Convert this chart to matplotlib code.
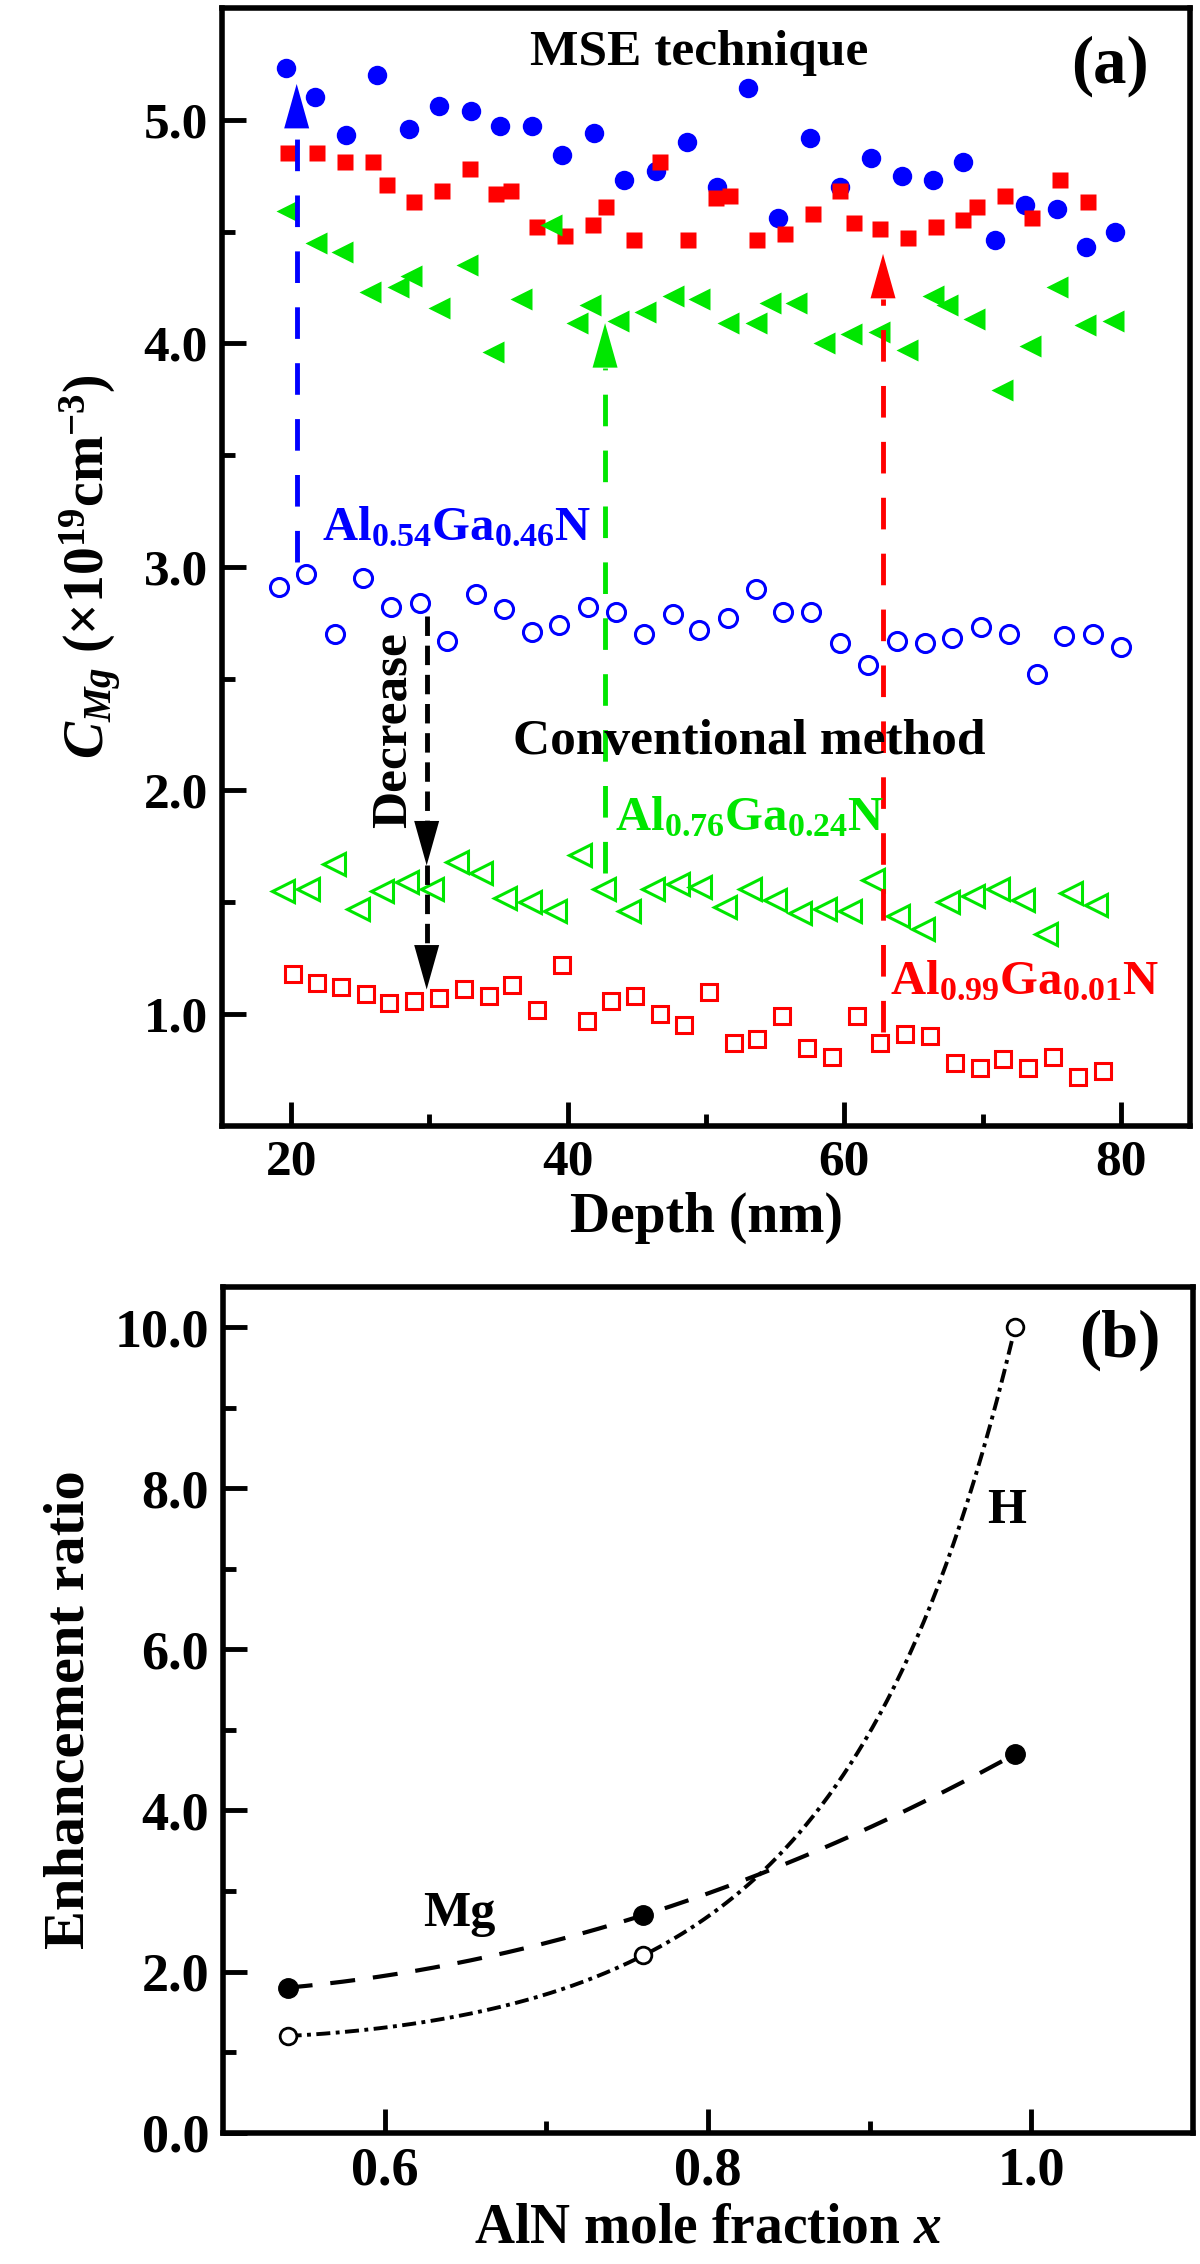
import numpy as np
import matplotlib
matplotlib.use('Agg')
import matplotlib.pyplot as plt

# fuentes tipo Times en negrita
plt.rcParams['font.family'] = ['Liberation Serif', 'DejaVu Serif']
plt.rcParams['font.weight'] = 'bold'
plt.rcParams['axes.labelweight'] = 'bold'
plt.rcParams['mathtext.fontset'] = 'custom'
plt.rcParams['mathtext.rm'] = 'Liberation Serif:bold'
plt.rcParams['mathtext.bf'] = 'Liberation Serif:bold'
plt.rcParams['mathtext.it'] = 'Liberation Serif:italic:bold'
plt.rcParams['mathtext.default'] = 'rm'

# ---------------- datos panel (a) ----------------
# técnica MSE (símbolos llenos)
blue_fill_x = [19.6, 21.7, 24.0, 26.2, 28.5, 30.7, 33.0, 35.1, 37.4, 39.6, 41.9, 44.1, 46.4, 48.6,
               50.8, 53.0, 55.2, 57.5, 59.7, 61.9, 64.2, 66.4, 68.6, 70.9, 73.1, 75.4, 77.5, 79.6]
blue_fill_y = [5.23, 5.10, 4.93, 5.20, 4.96, 5.06, 5.04, 4.97, 4.97, 4.84, 4.94, 4.73, 4.77, 4.90,
               4.70, 5.14, 4.56, 4.92, 4.70, 4.83, 4.75, 4.73, 4.81, 4.46, 4.62, 4.60, 4.43, 4.50]
red_fill_x = [19.8, 21.9, 23.9, 25.9, 26.9, 28.9, 30.9, 32.9, 34.8, 35.9, 37.8, 39.8, 41.8, 42.8, 44.8,
              46.7, 48.7, 50.7, 51.7, 53.7, 55.7, 57.7, 59.7, 60.7, 62.6, 64.6, 66.6, 68.6, 69.6,
              71.6, 73.6, 75.6, 77.6]
red_fill_y = [4.85, 4.85, 4.81, 4.81, 4.71, 4.63, 4.68, 4.78, 4.67, 4.68, 4.52, 4.48, 4.53, 4.61, 4.46,
              4.81, 4.46, 4.65, 4.66, 4.46, 4.49, 4.58, 4.68, 4.54, 4.51, 4.47, 4.52, 4.55, 4.61,
              4.66, 4.56, 4.73, 4.63]
green_fill_x = [19.7, 21.8, 23.7, 25.7, 27.7, 28.7, 30.7, 32.7, 34.6, 36.6, 38.8, 40.7, 41.6, 43.6,
                45.6, 47.6, 49.5, 51.6, 53.6, 54.6, 56.5, 58.5, 60.5, 62.5, 64.5, 66.4, 67.4, 69.4,
                71.4, 73.4, 75.4, 77.4, 79.4]
green_fill_y = [4.59, 4.45, 4.41, 4.23, 4.25, 4.30, 4.16, 4.35, 3.96, 4.20, 4.53, 4.09, 4.17, 4.10,
                4.14, 4.21, 4.20, 4.09, 4.09, 4.18, 4.18, 4.00, 4.04, 4.05, 3.97, 4.21, 4.17, 4.11,
                3.79, 3.99, 4.25, 4.08, 4.10]
# método convencional (símbolos vacíos)
blue_open_x = [19.1, 21.1, 23.2, 25.2, 27.2, 29.3, 31.3, 33.4, 35.4, 37.4, 39.4, 41.5, 43.5, 45.5,
               47.6, 49.5, 51.6, 53.6, 55.6, 57.6, 59.7, 61.7, 63.8, 65.8, 67.8, 69.9, 71.9, 73.9,
               75.9, 78.0, 80.0]
blue_open_y = [2.91, 2.97, 2.70, 2.95, 2.82, 2.84, 2.67, 2.88, 2.81, 2.71, 2.74, 2.82, 2.80, 2.70,
               2.79, 2.72, 2.77, 2.90, 2.80, 2.80, 2.66, 2.56, 2.67, 2.66, 2.68, 2.73, 2.70, 2.52,
               2.69, 2.70, 2.64]
green_open_x = [19.4, 21.2, 23.1, 24.8, 26.6, 28.4, 30.2, 32.0, 33.7, 35.5, 37.3, 39.1, 40.9, 42.6,
                44.4, 46.2, 48.0, 49.6, 51.4, 53.2, 55.0, 56.8, 58.6, 60.4, 62.1, 63.9, 65.7, 67.5,
                69.3, 71.1, 72.9, 74.6, 76.4, 78.2]
green_open_y = [1.55, 1.56, 1.67, 1.47, 1.55, 1.59, 1.56, 1.68, 1.63, 1.52, 1.50, 1.46, 1.71, 1.56,
                1.46, 1.56, 1.58, 1.57, 1.48, 1.56, 1.51, 1.45, 1.47, 1.46, 1.60, 1.44, 1.38, 1.50,
                1.53, 1.56, 1.51, 1.36, 1.54, 1.49]
red_open_x = [20.1, 21.9, 23.6, 25.4, 27.1, 28.9, 30.7, 32.5, 34.3, 36.0, 37.8, 39.6, 41.4, 43.1,
              44.9, 46.7, 48.4, 50.2, 52.0, 53.7, 55.5, 57.3, 59.1, 60.9, 62.6, 64.4, 66.2, 68.0,
              69.8, 71.5, 73.3, 75.1, 76.9, 78.7]
red_open_y = [1.18, 1.14, 1.12, 1.09, 1.05, 1.06, 1.07, 1.11, 1.08, 1.13, 1.02, 1.22, 0.97, 1.06,
              1.08, 1.00, 0.95, 1.10, 0.87, 0.89, 0.99, 0.85, 0.81, 0.99, 0.87, 0.91, 0.90, 0.78,
              0.76, 0.80, 0.76, 0.81, 0.72, 0.745]

xticks_a = [20, 40, 60, 80]
yticks_a = [1.0, 2.0, 3.0, 4.0, 5.0]

# ---------------- datos panel (b) ----------------
x_frac = [0.54, 0.76, 0.99]
ratio_mg = [1.8, 2.7, 4.7]
ratio_h = [1.2, 2.2, 10.0]
xticks_b = [0.6, 0.8, 1.0]
yticks_b = [0.0, 2.0, 4.0, 6.0, 8.0, 10.0]

azul = '#0000ff'
rojo = '#ff0000'
verde = '#00e600'

fig = plt.figure(figsize=(12, 22.64), dpi=100)

def estilo(ax, lsize):
    for s in ax.spines.values():
        s.set_linewidth(4)
    ax.tick_params(which='both', direction='in', top=False, right=False, width=3.5,
                   labelsize=lsize, pad=10)
    ax.tick_params(which='major', length=17)
    ax.tick_params(which='minor', length=9)

# ================= (a) =================
ax = fig.add_axes([0.185, 0.5027, 0.8067, 0.4938])
ms = 14
ax.plot(blue_fill_x, blue_fill_y, 'o', color=azul, ms=ms, mec='none')
ax.plot(red_fill_x, red_fill_y, 's', color=rojo, ms=ms - 2, mec='none')
ax.plot(green_fill_x, green_fill_y, '<', color=verde, ms=ms + 2, mec='none')
ax.plot(blue_open_x, blue_open_y, 'o', mfc='none', mec=azul, ms=ms - 1, mew=2.2)
ax.plot(green_open_x, green_open_y, '<', mfc='none', mec=verde, ms=ms + 2, mew=2.2)
ax.plot(red_open_x, red_open_y, 's', mfc='none', mec=rojo, ms=ms - 2, mew=2.2)

# flechas discontinuas
def flecha(x, y0, y1, color, dashes, lw):
    tip = y1
    base = y1 - 0.2 if y1 > y0 else y1 + 0.2
    ax.plot([x, x], [y0, base], color=color, lw=lw, linestyle=(0, dashes), solid_capstyle='butt')
    ax.annotate('', xy=(x, tip), xytext=(x, base),
                arrowprops=dict(arrowstyle='-|>,head_length=1.6,head_width=0.45', color=color,
                                lw=0, mutation_scale=20, shrinkA=0, shrinkB=0))

flecha(20.4, 3.02, 5.16, azul, (6.5, 5), 3.5)
flecha(42.7, 1.63, 4.09, verde, (6.5, 5), 3.5)
flecha(62.8, 0.92, 4.40, rojo, (6.5, 5), 3.5)
flecha(29.8, 2.78, 1.665, 'black', (4, 2), 3.5)
flecha(29.8, 1.665, 1.11, 'black', (4, 2), 3.5)

ax.text(49.5, 5.30, 'MSE technique', fontsize=37, ha='center', va='center')
ax.text(79.2, 5.24, '(a)', fontsize=48, ha='center', va='center')
ax.text(53.1, 2.165, 'Conventional method', fontsize=37, ha='center', va='baseline')
ax.text(27.4, 2.27, 'Decrease', fontsize=37, rotation=90, ha='center', va='center')
ax.text(22.2, 3.12, r'Al$_{0.54}$Ga$_{0.46}$N', fontsize=35, color=azul, va='baseline')
ax.text(43.4, 1.82, r'Al$_{0.76}$Ga$_{0.24}$N', fontsize=35, color=verde, va='baseline')
ax.text(63.3, 1.09, r'Al$_{0.99}$Ga$_{0.01}$N', fontsize=35, color=rojo, va='baseline')

ax.set_xlim(15, 85)
ax.set_ylim(0.5, 5.5)
ax.set_xticks(xticks_a)
ax.set_xticklabels([str(v) for v in xticks_a])
ax.set_xticks([30, 50, 70], minor=True)
ax.set_yticks(yticks_a)
ax.set_yticklabels(['%.1f' % v for v in yticks_a])
ax.set_yticks([1.5, 2.5, 3.5, 4.5], minor=True)
estilo(ax, 37)
ax.set_xlabel('Depth (nm)', fontsize=40, labelpad=4)
ax.set_ylabel(r'$\mathit{C}_{\mathit{Mg}}$ ($\times$10$^{19}$cm$^{-3}$)', fontsize=40, labelpad=14)

# ================= (b) =================
bx = fig.add_axes([0.1858, 0.058, 0.8083, 0.3736])
xs = np.linspace(x_frac[0], x_frac[-1], 200)
# curvas de ajuste a través de los puntos
p_mg = np.polyfit(x_frac, ratio_mg, 2)
p_h = np.polyfit(x_frac, np.log(ratio_h), 2)
bx.plot(xs, np.polyval(p_mg, xs), color='black', lw=3, linestyle=(0, (6, 4.3)))
bx.plot(xs, np.exp(np.polyval(p_h, xs)), color='black', lw=2.8, linestyle=(0, (3.6, 1.4, 1.0, 1.4)))
bx.plot(x_frac, ratio_mg, 'o', color='black', ms=14)
bx.plot(x_frac, ratio_h, 'o', mfc='white', mec='black', ms=12, mew=2)

bx.text(0.646, 2.56, 'Mg', fontsize=36, ha='center', va='baseline')
bx.text(0.985, 7.57, 'H', fontsize=36, ha='center', va='baseline')
bx.text(1.055, 9.84, '(b)', fontsize=48, ha='center', va='center')

bx.set_xlim(0.5, 1.1)
bx.set_ylim(0, 10.5)
bx.set_xticks(xticks_b)
bx.set_xticklabels(['%.1f' % v for v in xticks_b])
bx.set_xticks([0.7, 0.9], minor=True)
bx.set_yticks(yticks_b)
bx.set_yticklabels(['%.1f' % v for v in yticks_b])
bx.set_yticks([1, 3, 5, 7, 9], minor=True)
estilo(bx, 39)
bx.set_xlabel(r'AlN mole fraction $\mathit{x}$', fontsize=40, labelpad=4)
bx.set_ylabel('Enhancement ratio', fontsize=42, labelpad=14)

fig.savefig('out.png', dpi=100)
